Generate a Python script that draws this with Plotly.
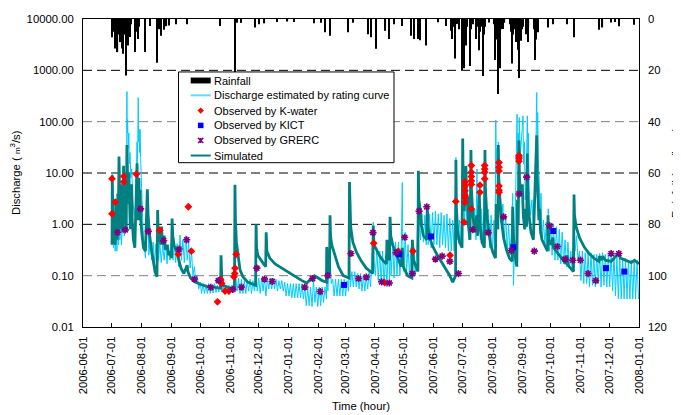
import math
import plotly.graph_objects as go

# ---------------- data ----------------
MONTH_TICKS = ["2006-06-01", "2006-07-01", "2006-08-01", "2006-09-01", "2006-10-01",
               "2006-11-01", "2006-12-01", "2007-01-01", "2007-02-01", "2007-03-01",
               "2007-04-01", "2007-05-01", "2007-06-01", "2007-07-01", "2007-08-01",
               "2007-09-01", "2007-10-01", "2007-11-01", "2007-12-01", "2008-01-01"]
Q_TICKS = [0.01, 0.1, 1, 10, 100, 1000, 10000]
Q_LABELS = ["0.01", "0.10", "1.00", "10.00", "100.00", "1000.00", "10000.00"]
RAIN_TICKS = [0, 20, 40, 60, 80, 100, 120]

# hourly rainfall spikes (mm/hour)
RAIN = [
    ("2006-07-01", 7.1), ("2006-07-02", 3.0), ("2006-07-03", 5.0), ("2006-07-04", 11.5),
    ("2006-07-05", 4.0), ("2006-07-06", 11.5), ("2006-07-07", 12.9), ("2006-07-08", 6.0),
    ("2006-07-09", 3.0), ("2006-07-10", 9.0), ("2006-07-11", 5.0), ("2006-07-12", 11.5),
    ("2006-07-13", 13.5), ("2006-07-14", 4.0), ("2006-07-15", 6.0), ("2006-07-16", 22.0),
    ("2006-07-17", 5.0), ("2006-07-18", 10.3), ("2006-07-19", 3.0), ("2006-07-20", 7.0),
    ("2006-07-21", 2.0), ("2006-07-25", 12.9), ("2006-07-26", 4.0), ("2006-07-27", 5.0),
    ("2006-07-28", 7.8), ("2006-07-29", 3.0), ("2006-08-05", 12.9), ("2006-08-10", 2.7),
    ("2006-08-17", 17.0), ("2006-08-19", 4.0), ("2006-08-21", 6.5), ("2006-08-24", 4.2),
    ("2006-08-27", 2.8), ("2006-08-30", 2.5), ("2006-09-06", 2.0), ("2006-09-17", 2.0),
    ("2006-10-22", 2.7), ("2006-11-06", 21.0), ("2006-11-08", 1.5), ("2006-11-13", 1.5),
    ("2006-11-27", 3.3), ("2006-12-01", 2.0), ("2006-12-07", 1.7), ("2006-12-20", 1.2),
    ("2006-12-31", 1.0), ("2007-01-07", 1.2), ("2007-01-28", 1.7), ("2007-02-04", 1.5),
    ("2007-02-08", 5.2), ("2007-02-13", 6.5), ("2007-03-04", 5.2), ("2007-03-09", 1.5),
    ("2007-03-25", 5.9), ("2007-03-28", 7.1), ("2007-04-02", 11.6), ("2007-04-12", 4.6),
    ("2007-04-16", 7.8), ("2007-04-21", 2.0), ("2007-04-29", 2.7), ("2007-05-09", 6.5),
    ("2007-05-12", 7.8), ("2007-05-16", 7.8), ("2007-05-18", 8.3), ("2007-05-24", 10.3),
    ("2007-06-06", 1.3), ("2007-06-14", 2.7), ("2007-06-19", 4.6), ("2007-06-20", 7.8),
    ("2007-06-21", 3.0), ("2007-06-23", 15.4), ("2007-06-25", 2.0), ("2007-06-27", 1.9),
    ("2007-06-28", 4.0), ("2007-07-01", 19.9), ("2007-07-02", 6.0), ("2007-07-03", 19.2),
    ("2007-07-04", 5.0), ("2007-07-05", 10.3), ("2007-07-06", 3.0), ("2007-07-09", 18.3),
    ("2007-07-10", 4.0), ("2007-07-12", 2.0), ("2007-07-15", 7.8), ("2007-07-16", 3.0),
    ("2007-07-18", 12.2), ("2007-07-19", 5.0), ("2007-07-21", 3.0), ("2007-07-23", 22.2),
    ("2007-07-24", 6.0), ("2007-07-25", 3.0), ("2007-07-29", 1.4), ("2007-08-03", 2.0),
    ("2007-08-04", 16.0), ("2007-08-05", 7.8), ("2007-08-06", 8.0), ("2007-08-07", 29.2),
    ("2007-08-08", 9.0), ("2007-08-09", 19.2), ("2007-08-10", 4.0), ("2007-08-12", 3.9),
    ("2007-08-14", 1.5), ("2007-08-20", 2.0), ("2007-08-21", 5.0), ("2007-08-22", 17.3),
    ("2007-08-23", 6.0), ("2007-08-24", 3.0), ("2007-08-25", 4.0), ("2007-08-26", 9.0),
    ("2007-08-27", 7.0), ("2007-08-28", 12.0), ("2007-08-29", 23.0), ("2007-08-30", 6.0),
    ("2007-08-31", 8.5), ("2007-09-01", 4.0), ("2007-09-02", 3.0), ("2007-09-05", 5.9),
    ("2007-09-06", 4.0), ("2007-09-07", 9.0), ("2007-09-08", 3.0), ("2007-09-14", 4.0),
    ("2007-09-15", 16.0), ("2007-09-16", 8.0), ("2007-09-17", 3.0), ("2007-09-18", 5.2),
    ("2007-09-28", 3.3), ("2007-10-03", 2.0), ("2007-10-18", 2.0), ("2007-10-25", 7.1),
    ("2007-11-20", 4.2), ("2007-11-24", 3.3), ("2007-12-03", 1.4), ("2007-12-07", 1.2),
    ("2007-12-11", 2.8), ("2007-12-27", 2.2),
]

# discharge estimated by rating curve (m3/s)
RATING = [
    ("2006-07-01 06:00", 0.5), ("2006-07-01 12:00", 10.0), ("2006-07-02 00:00", 1.0),
    ("2006-07-02 18:00", 0.35), ("2006-07-03 18:00", 0.95), ("2006-07-04 12:00", 0.3),
    ("2006-07-05 12:00", 0.9), ("2006-07-06 06:00", 0.3), ("2006-07-07 06:00", 1.0),
    ("2006-07-08 00:00", 0.4), ("2006-07-08 12:00", 9.0), ("2006-07-09 06:00", 0.5),
    ("2006-07-10 06:00", 0.95), ("2006-07-11 00:00", 0.4), ("2006-07-12 00:00", 0.9),
    ("2006-07-13 06:00", 8.0), ("2006-07-14 00:00", 0.6), ("2006-07-15 00:00", 1.2),
    ("2006-07-16 00:00", 0.8), ("2006-07-16 18:00", 385.0), ("2006-07-17 00:00", 60.0),
    ("2006-07-17 12:00", 110.0), ("2006-07-18 00:00", 30.0), ("2006-07-18 18:00", 60.0),
    ("2006-07-19 06:00", 15.0), ("2006-07-20 00:00", 25.0), ("2006-07-20 18:00", 8.0),
    ("2006-07-21 18:00", 12.0), ("2006-07-22 18:00", 3.0), ("2006-07-24 12:00", 1.5),
    ("2006-07-26 00:00", 2.5), ("2006-07-27 06:00", 40.0), ("2006-07-27 18:00", 15.0),
    ("2006-07-28 12:00", 295.0), ("2006-07-29 00:00", 40.0), ("2006-07-29 12:00", 72.0),
    ("2006-07-30 00:00", 25.0), ("2006-07-30 12:00", 70.0), ("2006-07-31 00:00", 20.0),
    ("2006-07-31 18:00", 6.0), ("2006-08-01 12:00", 2.0), ("2006-08-02 12:00", 0.8),
    ("2006-08-03 12:00", 0.45), ("2006-08-05 00:00", 0.22), ("2006-08-07 00:00", 4.1),
    ("2006-08-07 18:00", 0.6), ("2006-08-08 12:00", 0.25), ("2006-08-10 00:00", 0.45),
    ("2006-08-11 12:00", 0.2), ("2006-08-13 00:00", 0.45), ("2006-08-14 12:00", 0.18),
    ("2006-08-16 00:00", 0.42), ("2006-08-17 00:00", 0.2), ("2006-08-17 18:00", 0.9),
    ("2006-08-18 18:00", 0.2), ("2006-08-20 00:00", 0.45), ("2006-08-21 12:00", 0.18),
    ("2006-08-23 00:00", 0.4), ("2006-08-24 12:00", 0.2), ("2006-08-26 00:00", 0.45),
    ("2006-08-27 12:00", 0.17), ("2006-08-29 00:00", 0.4), ("2006-08-30 12:00", 0.2),
    ("2006-09-01 18:00", 0.9), ("2006-09-02 18:00", 0.2), ("2006-09-04 00:00", 0.45),
    ("2006-09-05 12:00", 0.18), ("2006-09-07 00:00", 0.42), ("2006-09-08 12:00", 0.15),
    ("2006-09-10 00:00", 0.62), ("2006-09-11 12:00", 0.2), ("2006-09-13 00:00", 0.5),
    ("2006-09-14 12:00", 0.18), ("2006-09-16 00:00", 0.6), ("2006-09-17 12:00", 0.2),
    ("2006-09-19 00:00", 0.45), ("2006-09-20 12:00", 0.14), ("2006-09-22 00:00", 0.3),
    ("2006-09-23 12:00", 0.1), ("2006-09-25 00:00", 0.15), ("2006-09-26 12:00", 0.07),
    ("2006-09-28 00:00", 0.1), ("2006-09-29 12:00", 0.055), ("2006-10-01 00:00", 0.075),
    ("2006-10-02 12:00", 0.045), ("2006-10-04 00:00", 0.07), ("2006-10-05 12:00", 0.045),
    ("2006-10-07 00:00", 0.065), ("2006-10-08 12:00", 0.045), ("2006-10-10 00:00", 0.07),
    ("2006-10-11 12:00", 0.045), ("2006-10-13 00:00", 0.065), ("2006-10-14 12:00", 0.046),
    ("2006-10-16 00:00", 0.07), ("2006-10-17 12:00", 0.047), ("2006-10-19 00:00", 0.065),
    ("2006-10-20 12:00", 0.048), ("2006-10-22 18:00", 0.09), ("2006-10-23 12:00", 0.048),
    ("2006-10-25 00:00", 0.065), ("2006-10-26 12:00", 0.046), ("2006-10-28 00:00", 0.065),
    ("2006-10-29 12:00", 0.045), ("2006-10-31 00:00", 0.065), ("2006-11-01 12:00", 0.047),
    ("2006-11-03 00:00", 0.065), ("2006-11-04 12:00", 0.05), ("2006-11-06 06:00", 0.3),
    ("2006-11-07 00:00", 0.1), ("2006-11-08 12:00", 0.05), ("2006-11-10 00:00", 0.09),
    ("2006-11-11 12:00", 0.045), ("2006-11-13 00:00", 0.085), ("2006-11-14 12:00", 0.045),
    ("2006-11-16 00:00", 0.08), ("2006-11-17 12:00", 0.045), ("2006-11-19 00:00", 0.08),
    ("2006-11-20 12:00", 0.05), ("2006-11-22 00:00", 0.085), ("2006-11-23 12:00", 0.045),
    ("2006-11-25 00:00", 0.08), ("2006-11-26 12:00", 0.05), ("2006-11-28 06:00", 0.12),
    ("2006-11-29 12:00", 0.05), ("2006-12-01 00:00", 0.09), ("2006-12-02 12:00", 0.045),
    ("2006-12-04 00:00", 0.09), ("2006-12-05 12:00", 0.05), ("2006-12-07 00:00", 0.09),
    ("2006-12-08 12:00", 0.04), ("2006-12-10 00:00", 0.09), ("2006-12-11 12:00", 0.055),
    ("2006-12-13 00:00", 0.09), ("2006-12-14 12:00", 0.055), ("2006-12-16 00:00", 0.09),
    ("2006-12-17 12:00", 0.055), ("2006-12-19 00:00", 0.085), ("2006-12-20 12:00", 0.05),
    ("2006-12-22 00:00", 0.08), ("2006-12-23 12:00", 0.055), ("2006-12-25 00:00", 0.08),
    ("2006-12-26 12:00", 0.05), ("2006-12-28 00:00", 0.075), ("2006-12-29 12:00", 0.04),
    ("2006-12-31 00:00", 0.07), ("2007-01-01 12:00", 0.04), ("2007-01-03 00:00", 0.07),
    ("2007-01-04 12:00", 0.037), ("2007-01-06 00:00", 0.07), ("2007-01-07 12:00", 0.037),
    ("2007-01-09 00:00", 0.07), ("2007-01-10 12:00", 0.037), ("2007-01-12 00:00", 0.07),
    ("2007-01-13 12:00", 0.037), ("2007-01-15 00:00", 0.07), ("2007-01-16 12:00", 0.035),
    ("2007-01-18 00:00", 0.06), ("2007-01-19 12:00", 0.026), ("2007-01-21 00:00", 0.06),
    ("2007-01-22 12:00", 0.026), ("2007-01-24 00:00", 0.06), ("2007-01-25 12:00", 0.025),
    ("2007-01-27 00:00", 0.08), ("2007-01-28 12:00", 0.03), ("2007-01-30 00:00", 0.06),
    ("2007-01-31 12:00", 0.025), ("2007-02-02 00:00", 0.06), ("2007-02-03 12:00", 0.026),
    ("2007-02-05 00:00", 0.06), ("2007-02-06 12:00", 0.03), ("2007-02-08 00:00", 0.06),
    ("2007-02-09 12:00", 0.035), ("2007-02-09 20:00", 0.12), ("2007-02-11 00:00", 0.05),
    ("2007-02-13 06:00", 0.3), ("2007-02-14 12:00", 0.07), ("2007-02-16 00:00", 0.085),
    ("2007-02-17 12:00", 0.04), ("2007-02-19 00:00", 0.085), ("2007-02-20 12:00", 0.04),
    ("2007-02-22 00:00", 0.085), ("2007-02-23 12:00", 0.04), ("2007-02-25 00:00", 0.085),
    ("2007-02-26 12:00", 0.04), ("2007-02-28 00:00", 0.085), ("2007-03-01 12:00", 0.04),
    ("2007-03-03 00:00", 0.08), ("2007-03-04 12:00", 0.05), ("2007-03-05 12:00", 0.2),
    ("2007-03-06 12:00", 0.06), ("2007-03-08 00:00", 0.12), ("2007-03-09 12:00", 0.06),
    ("2007-03-11 00:00", 0.12), ("2007-03-12 12:00", 0.06), ("2007-03-14 00:00", 0.11),
    ("2007-03-15 12:00", 0.055), ("2007-03-17 00:00", 0.11), ("2007-03-18 12:00", 0.05),
    ("2007-03-20 00:00", 0.1), ("2007-03-21 12:00", 0.05), ("2007-03-23 00:00", 0.1),
    ("2007-03-24 12:00", 0.055), ("2007-03-26 00:00", 0.12), ("2007-03-27 12:00", 0.06),
    ("2007-03-30 06:00", 1.1), ("2007-03-31 00:00", 0.2), ("2007-04-01 12:00", 0.1),
    ("2007-04-03 00:00", 0.35), ("2007-04-04 12:00", 0.08), ("2007-04-06 00:00", 0.3),
    ("2007-04-07 12:00", 0.07), ("2007-04-09 00:00", 0.3), ("2007-04-10 12:00", 0.07),
    ("2007-04-12 00:00", 0.25), ("2007-04-13 12:00", 0.06), ("2007-04-15 00:00", 0.45),
    ("2007-04-16 06:00", 0.08), ("2007-04-16 18:00", 0.7), ("2007-04-17 18:00", 0.1),
    ("2007-04-19 12:00", 0.4), ("2007-04-21 00:00", 0.09), ("2007-04-22 12:00", 0.45),
    ("2007-04-24 00:00", 0.1), ("2007-04-25 12:00", 0.45), ("2007-04-27 00:00", 0.1),
    ("2007-04-28 12:00", 0.4), ("2007-04-29 12:00", 6.5), ("2007-04-30 00:00", 0.5),
    ("2007-05-01 06:00", 0.12), ("2007-05-02 12:00", 0.7), ("2007-05-04 00:00", 0.12),
    ("2007-05-05 12:00", 0.4), ("2007-05-07 00:00", 0.1), ("2007-05-08 12:00", 0.35),
    ("2007-05-10 00:00", 0.09), ("2007-05-11 12:00", 0.35), ("2007-05-13 00:00", 0.1),
    ("2007-05-14 12:00", 0.3), ("2007-05-16 06:00", 3.0), ("2007-05-17 00:00", 1.5),
    ("2007-05-18 12:00", 0.5), ("2007-05-20 00:00", 1.6), ("2007-05-21 12:00", 0.45),
    ("2007-05-23 00:00", 1.5), ("2007-05-24 12:00", 0.4), ("2007-05-25 12:00", 1.8),
    ("2007-05-26 12:00", 0.4), ("2007-05-28 00:00", 1.6), ("2007-05-29 12:00", 0.35),
    ("2007-05-31 00:00", 1.7), ("2007-06-01 12:00", 0.4), ("2007-06-03 00:00", 1.8),
    ("2007-06-04 12:00", 0.4), ("2007-06-06 00:00", 1.6), ("2007-06-07 12:00", 0.35),
    ("2007-06-09 00:00", 1.7), ("2007-06-10 12:00", 0.4), ("2007-06-12 00:00", 1.5),
    ("2007-06-13 12:00", 0.35), ("2007-06-15 00:00", 1.6), ("2007-06-16 12:00", 0.3),
    ("2007-06-18 00:00", 1.3), ("2007-06-19 12:00", 0.3), ("2007-06-21 00:00", 1.2),
    ("2007-06-22 12:00", 0.3), ("2007-06-24 08:00", 20.0), ("2007-06-25 00:00", 1.5),
    ("2007-06-26 12:00", 0.5), ("2007-06-28 00:00", 1.2), ("2007-06-29 12:00", 0.4),
    ("2007-07-01 10:00", 30.0), ("2007-07-02 06:00", 4.0), ("2007-07-03 12:00", 1.0),
    ("2007-07-04 18:00", 10.0), ("2007-07-05 18:00", 1.0), ("2007-07-06 18:00", 2.0),
    ("2007-07-08 00:00", 0.5), ("2007-07-09 12:00", 1.5), ("2007-07-10 00:00", 25.0),
    ("2007-07-11 00:00", 3.0), ("2007-07-12 12:00", 0.7), ("2007-07-14 00:00", 2.0),
    ("2007-07-15 06:00", 0.5), ("2007-07-16 06:00", 12.0), ("2007-07-17 00:00", 0.6),
    ("2007-07-18 18:00", 6.0), ("2007-07-19 18:00", 0.5), ("2007-07-21 00:00", 2.0),
    ("2007-07-22 12:00", 0.4), ("2007-07-24 14:00", 20.0), ("2007-07-25 06:00", 2.5),
    ("2007-07-26 12:00", 0.7), ("2007-07-28 00:00", 2.0), ("2007-07-29 12:00", 0.35),
    ("2007-07-31 00:00", 1.5), ("2007-08-01 12:00", 0.3), ("2007-08-03 00:00", 1.2),
    ("2007-08-04 06:00", 0.3), ("2007-08-04 20:00", 107.0), ("2007-08-05 12:00", 10.0),
    ("2007-08-06 06:00", 30.0), ("2007-08-07 00:00", 5.0), ("2007-08-07 12:00", 40.0),
    ("2007-08-08 06:00", 8.0), ("2007-08-09 12:00", 3.0), ("2007-08-10 18:00", 1.0),
    ("2007-08-12 06:00", 2.5), ("2007-08-13 18:00", 0.5), ("2007-08-15 06:00", 1.5),
    ("2007-08-16 18:00", 0.3), ("2007-08-18 06:00", 1.0), ("2007-08-19 18:00", 0.25),
    ("2007-08-21 06:00", 0.8), ("2007-08-22 12:00", 4.0), ("2007-08-23 06:00", 0.065),
    ("2007-08-24 18:00", 0.5), ("2007-08-27 00:00", 140.0), ("2007-08-27 12:00", 15.0),
    ("2007-08-28 06:00", 60.0), ("2007-08-28 18:00", 10.0), ("2007-08-29 06:00", 120.0),
    ("2007-08-30 06:00", 20.0), ("2007-09-02 06:00", 130.0), ("2007-09-02 18:00", 15.0),
    ("2007-09-03 18:00", 40.0), ("2007-09-04 12:00", 3.0), ("2007-09-05 12:00", 6.0),
    ("2007-09-06 16:00", 130.0), ("2007-09-07 06:00", 20.0), ("2007-09-07 18:00", 60.0),
    ("2007-09-08 12:00", 6.0), ("2007-09-10 00:00", 1.5), ("2007-09-11 12:00", 3.0),
    ("2007-09-13 00:00", 0.8), ("2007-09-15 12:00", 20.0), ("2007-09-16 12:00", 370.0),
    ("2007-09-17 00:00", 40.0), ("2007-09-17 12:00", 150.0), ("2007-09-18 06:00", 15.0),
    ("2007-09-19 00:00", 8.0), ("2007-09-20 00:00", 1.5), ("2007-09-21 00:00", 4.0),
    ("2007-09-22 00:00", 0.5), ("2007-09-23 12:00", 1.2), ("2007-09-25 00:00", 0.4),
    ("2007-09-26 12:00", 1.1), ("2007-09-28 00:00", 0.35), ("2007-09-28 12:00", 2.0),
    ("2007-09-29 18:00", 0.3), ("2007-10-01 00:00", 1.0), ("2007-10-02 12:00", 0.25),
    ("2007-10-04 00:00", 1.0), ("2007-10-05 12:00", 0.2), ("2007-10-07 00:00", 0.9),
    ("2007-10-08 12:00", 0.2), ("2007-10-10 00:00", 0.8), ("2007-10-11 12:00", 0.17),
    ("2007-10-13 00:00", 0.7), ("2007-10-14 12:00", 0.17), ("2007-10-16 00:00", 0.5),
    ("2007-10-17 12:00", 0.15), ("2007-10-19 00:00", 0.45), ("2007-10-20 12:00", 0.15),
    ("2007-10-22 00:00", 0.3), ("2007-10-23 12:00", 0.12), ("2007-10-25 12:00", 1.5),
    ("2007-10-26 12:00", 0.3), ("2007-10-28 00:00", 0.6), ("2007-10-29 12:00", 0.2),
    ("2007-10-31 00:00", 0.3), ("2007-11-01 12:00", 0.08), ("2007-11-03 00:00", 0.3),
    ("2007-11-04 12:00", 0.07), ("2007-11-06 00:00", 0.28), ("2007-11-07 12:00", 0.07),
    ("2007-11-09 00:00", 0.28), ("2007-11-10 12:00", 0.06), ("2007-11-12 00:00", 0.28),
    ("2007-11-13 12:00", 0.065), ("2007-11-15 00:00", 0.26), ("2007-11-16 12:00", 0.06),
    ("2007-11-18 00:00", 0.26), ("2007-11-19 12:00", 0.07), ("2007-11-21 00:00", 0.27),
    ("2007-11-22 12:00", 0.06), ("2007-11-24 00:00", 0.28), ("2007-11-25 12:00", 0.065),
    ("2007-11-27 00:00", 0.26), ("2007-11-28 12:00", 0.06), ("2007-11-30 00:00", 0.26),
    ("2007-12-01 12:00", 0.06), ("2007-12-03 00:00", 0.28), ("2007-12-04 12:00", 0.05),
    ("2007-12-06 00:00", 0.26), ("2007-12-07 12:00", 0.04), ("2007-12-09 00:00", 0.25),
    ("2007-12-10 12:00", 0.035), ("2007-12-12 00:00", 0.25), ("2007-12-13 12:00", 0.035),
    ("2007-12-15 00:00", 0.22), ("2007-12-16 12:00", 0.035), ("2007-12-18 00:00", 0.22),
    ("2007-12-19 12:00", 0.035), ("2007-12-21 00:00", 0.2), ("2007-12-22 12:00", 0.035),
    ("2007-12-24 00:00", 0.2), ("2007-12-25 12:00", 0.035), ("2007-12-27 00:00", 0.2),
    ("2007-12-28 12:00", 0.035), ("2007-12-30 00:00", 0.2), ("2007-12-31 12:00", 0.035),
]

# simulated discharge (m3/s)
SIMULATED = [
    ("2006-07-01 06:00", 0.4), ("2006-07-01 12:00", 9.0), ("2006-07-02 00:00", 1.8),
    ("2006-07-03 00:00", 0.7), ("2006-07-04 12:00", 0.4), ("2006-07-05 06:00", 3.0),
    ("2006-07-05 18:00", 0.9), ("2006-07-06 18:00", 0.5), ("2006-07-07 06:00", 4.0),
    ("2006-07-07 18:00", 0.9), ("2006-07-08 12:00", 21.0), ("2006-07-09 00:00", 2.5),
    ("2006-07-09 18:00", 0.8), ("2006-07-11 00:00", 6.0), ("2006-07-11 12:00", 1.2),
    ("2006-07-12 12:00", 0.7), ("2006-07-13 06:00", 13.8), ("2006-07-13 18:00", 1.8),
    ("2006-07-14 12:00", 8.0), ("2006-07-15 00:00", 1.5), ("2006-07-16 00:00", 0.8),
    ("2006-07-16 18:00", 35.0), ("2006-07-17 06:00", 8.0), ("2006-07-18 00:00", 2.5),
    ("2006-07-18 18:00", 10.0), ("2006-07-19 06:00", 2.0), ("2006-07-20 06:00", 0.8),
    ("2006-07-21 18:00", 6.0), ("2006-07-22 06:00", 1.2), ("2006-07-23 12:00", 0.5),
    ("2006-07-25 00:00", 0.35), ("2006-07-27 06:00", 15.5), ("2006-07-27 18:00", 3.0),
    ("2006-07-28 12:00", 1.2), ("2006-07-29 06:00", 8.0), ("2006-07-29 18:00", 1.5),
    ("2006-07-30 12:00", 4.7), ("2006-07-31 00:00", 1.3), ("2006-08-01 12:00", 0.6),
    ("2006-08-03 00:00", 0.35), ("2006-08-05 00:00", 0.3), ("2006-08-07 00:00", 4.8),
    ("2006-08-07 18:00", 1.6), ("2006-08-09 00:00", 0.7), ("2006-08-11 00:00", 0.35),
    ("2006-08-13 00:00", 0.18), ("2006-08-15 00:00", 0.12), ("2006-08-17 00:00", 0.095),
    ("2006-08-17 18:00", 1.9), ("2006-08-18 06:00", 0.7), ("2006-08-19 12:00", 0.45),
    ("2006-08-20 00:00", 0.8), ("2006-08-21 00:00", 0.4), ("2006-08-21 18:00", 0.9),
    ("2006-08-22 18:00", 0.4), ("2006-08-24 12:00", 0.6), ("2006-08-25 12:00", 0.32),
    ("2006-08-27 12:00", 0.4), ("2006-08-29 06:00", 0.25), ("2006-08-30 18:00", 0.3),
    ("2006-09-01 06:00", 0.22), ("2006-09-01 18:00", 1.3), ("2006-09-02 12:00", 0.6),
    ("2006-09-04 00:00", 0.38), ("2006-09-06 12:00", 0.3), ("2006-09-08 12:00", 0.2),
    ("2006-09-11 00:00", 0.14), ("2006-09-14 00:00", 0.11), ("2006-09-17 12:00", 0.16),
    ("2006-09-18 06:00", 0.12), ("2006-09-21 00:00", 0.09), ("2006-09-25 00:00", 0.077),
    ("2006-10-01 00:00", 0.068), ("2006-10-08 00:00", 0.062), ("2006-10-15 00:00", 0.059),
    ("2006-10-22 06:00", 0.057), ("2006-10-22 18:00", 0.25), ("2006-10-23 12:00", 0.09),
    ("2006-10-25 00:00", 0.065), ("2006-10-31 00:00", 0.058), ("2006-11-05 18:00", 0.055),
    ("2006-11-06 06:00", 5.9), ("2006-11-06 18:00", 1.2), ("2006-11-07 18:00", 0.45),
    ("2006-11-09 12:00", 0.22), ("2006-11-11 12:00", 0.13), ("2006-11-14 12:00", 0.095),
    ("2006-11-19 12:00", 0.075), ("2006-11-27 18:00", 0.065), ("2006-11-28 06:00", 1.0),
    ("2006-11-28 18:00", 0.35), ("2006-11-30 00:00", 0.25), ("2006-12-03 00:00", 0.2),
    ("2006-12-06 00:00", 0.17), ("2006-12-08 06:00", 0.15), ("2006-12-08 18:00", 0.7),
    ("2006-12-09 12:00", 0.3), ("2006-12-12 12:00", 0.22), ("2006-12-18 00:00", 0.17),
    ("2006-12-25 00:00", 0.14), ("2007-01-01 00:00", 0.115), ("2007-01-08 00:00", 0.095),
    ("2007-01-15 00:00", 0.08), ("2007-01-20 00:00", 0.072), ("2007-01-24 00:00", 0.085),
    ("2007-01-28 00:00", 0.1), ("2007-02-01 00:00", 0.09), ("2007-02-05 00:00", 0.08),
    ("2007-02-09 12:00", 0.075), ("2007-02-09 20:00", 0.36), ("2007-02-10 18:00", 0.15),
    ("2007-02-12 18:00", 0.11), ("2007-02-13 06:00", 1.5), ("2007-02-13 18:00", 0.6),
    ("2007-02-15 00:00", 0.4), ("2007-02-18 00:00", 0.25), ("2007-02-22 00:00", 0.15),
    ("2007-02-27 00:00", 0.1), ("2007-03-05 00:00", 0.09), ("2007-03-05 12:00", 6.7),
    ("2007-03-06 00:00", 1.5), ("2007-03-06 18:00", 0.9), ("2007-03-09 00:00", 0.45),
    ("2007-03-13 00:00", 0.28), ("2007-03-18 00:00", 0.19), ("2007-03-23 00:00", 0.14),
    ("2007-03-29 18:00", 0.11), ("2007-03-30 06:00", 0.95), ("2007-03-31 00:00", 0.4),
    ("2007-04-03 00:00", 0.3), ("2007-04-06 00:00", 0.24), ("2007-04-10 00:00", 0.19),
    ("2007-04-13 00:00", 0.17), ("2007-04-13 12:00", 0.5), ("2007-04-14 06:00", 0.25),
    ("2007-04-16 06:00", 0.2), ("2007-04-16 18:00", 1.4), ("2007-04-17 12:00", 0.6),
    ("2007-04-19 12:00", 0.4), ("2007-04-23 12:00", 0.25), ("2007-04-28 12:00", 0.15),
    ("2007-04-29 12:00", 0.35), ("2007-04-30 12:00", 0.15), ("2007-05-05 00:00", 0.1),
    ("2007-05-09 12:00", 0.09), ("2007-05-10 00:00", 0.5), ("2007-05-11 06:00", 0.2),
    ("2007-05-15 18:00", 0.12), ("2007-05-16 06:00", 11.0), ("2007-05-16 18:00", 3.0),
    ("2007-05-18 00:00", 2.0), ("2007-05-19 06:00", 1.0), ("2007-05-21 12:00", 0.6),
    ("2007-05-25 00:00", 0.5), ("2007-05-25 12:00", 2.3), ("2007-05-26 06:00", 0.9),
    ("2007-05-28 00:00", 0.55), ("2007-05-31 00:00", 0.38), ("2007-06-04 00:00", 0.27),
    ("2007-06-09 00:00", 0.19), ("2007-06-14 00:00", 0.13), ("2007-06-18 00:00", 0.1),
    ("2007-06-21 00:00", 0.075), ("2007-06-24 00:00", 0.1), ("2007-06-24 08:00", 18.0),
    ("2007-06-24 20:00", 2.2), ("2007-06-26 00:00", 0.8), ("2007-06-28 00:00", 0.45),
    ("2007-06-30 18:00", 0.35), ("2007-07-01 10:00", 47.0), ("2007-07-01 22:00", 6.0),
    ("2007-07-03 00:00", 1.8), ("2007-07-04 18:00", 13.7), ("2007-07-05 12:00", 2.5),
    ("2007-07-06 12:00", 3.5), ("2007-07-07 06:00", 1.0), ("2007-07-09 00:00", 0.5),
    ("2007-07-10 00:00", 28.0), ("2007-07-10 12:00", 5.0), ("2007-07-12 00:00", 1.5),
    ("2007-07-14 00:00", 0.7), ("2007-07-16 00:00", 1.5), ("2007-07-17 00:00", 0.6),
    ("2007-07-18 18:00", 3.9), ("2007-07-19 12:00", 1.0), ("2007-07-21 12:00", 0.45),
    ("2007-07-24 00:00", 0.35), ("2007-07-24 14:00", 28.0), ("2007-07-25 02:00", 5.0),
    ("2007-07-26 12:00", 1.5), ("2007-07-28 12:00", 0.7), ("2007-07-30 12:00", 0.4),
    ("2007-08-02 00:00", 0.28), ("2007-08-04 12:00", 0.22), ("2007-08-05 06:00", 2.5),
    ("2007-08-06 00:00", 1.0), ("2007-08-07 00:00", 0.8), ("2007-08-07 12:00", 35.0),
    ("2007-08-08 00:00", 8.0), ("2007-08-09 06:00", 3.0), ("2007-08-10 18:00", 1.2),
    ("2007-08-13 00:00", 0.55), ("2007-08-16 00:00", 0.32), ("2007-08-19 00:00", 0.22),
    ("2007-08-22 00:00", 0.19), ("2007-08-22 12:00", 2.2), ("2007-08-23 06:00", 0.6),
    ("2007-08-25 00:00", 0.25), ("2007-08-26 18:00", 0.15), ("2007-08-27 12:00", 3.0),
    ("2007-08-28 06:00", 1.0), ("2007-08-29 00:00", 43.0), ("2007-08-29 12:00", 8.0),
    ("2007-08-30 18:00", 3.5), ("2007-09-01 12:00", 6.0), ("2007-09-02 12:00", 1.5),
    ("2007-09-04 00:00", 0.8), ("2007-09-05 06:00", 2.0), ("2007-09-06 00:00", 0.9),
    ("2007-09-06 16:00", 24.0), ("2007-09-07 04:00", 4.0), ("2007-09-08 12:00", 1.5),
    ("2007-09-10 12:00", 0.7), ("2007-09-13 00:00", 0.5), ("2007-09-16 12:00", 54.0),
    ("2007-09-17 00:00", 9.0), ("2007-09-17 18:00", 3.0), ("2007-09-18 18:00", 1.2),
    ("2007-09-19 12:00", 2.0), ("2007-09-20 12:00", 0.7), ("2007-09-22 00:00", 0.5),
    ("2007-09-25 00:00", 0.38), ("2007-09-27 18:00", 0.3), ("2007-09-28 06:00", 1.5),
    ("2007-09-29 00:00", 0.5), ("2007-10-01 00:00", 0.4), ("2007-10-03 06:00", 0.55),
    ("2007-10-04 00:00", 0.35), ("2007-10-08 00:00", 0.28), ("2007-10-12 00:00", 0.22),
    ("2007-10-17 00:00", 0.17), ("2007-10-18 06:00", 0.25), ("2007-10-19 00:00", 0.16),
    ("2007-10-24 18:00", 0.12), ("2007-10-25 08:00", 3.8), ("2007-10-25 20:00", 1.5),
    ("2007-10-27 12:00", 0.9), ("2007-10-31 00:00", 0.55), ("2007-11-05 00:00", 0.36),
    ("2007-11-10 00:00", 0.27), ("2007-11-15 00:00", 0.22), ("2007-11-20 06:00", 0.19),
    ("2007-11-20 18:00", 0.24), ("2007-11-23 00:00", 0.2), ("2007-11-24 06:00", 0.24),
    ("2007-11-27 00:00", 0.2), ("2007-12-03 00:00", 0.19), ("2007-12-11 06:00", 0.28),
    ("2007-12-12 12:00", 0.22), ("2007-12-18 00:00", 0.2), ("2007-12-24 00:00", 0.18),
    ("2007-12-27 06:00", 0.2), ("2007-12-31 23:00", 0.17),
]

KWATER_DATES = ["2006-07-01 05:00", "2006-07-01 05:00", "2006-07-04 14:00", "2006-07-13 10:00",
                "2006-07-13 10:00", "2006-07-26 12:00", "2006-08-19 22:00", "2006-09-08 05:00",
                "2006-09-18 17:00", "2006-09-21 19:00", "2006-10-19 02:00", "2006-10-22 05:00",
                "2006-10-22 05:00", "2006-10-23 10:00", "2006-10-26 22:00", "2006-10-31 00:00",
                "2006-11-05 05:00", "2006-11-06 00:00", "2006-11-06 07:00", "2006-11-07 12:00",
                "2007-03-30 17:00", "2007-04-11 05:00", "2007-04-25 07:00", "2007-05-10 14:00",
                "2007-06-18 05:00", "2007-06-24 05:00", "2007-07-02 19:00",
                "2007-07-03 19:00", "2007-07-03 19:00", "2007-07-03 19:00", "2007-07-03 19:00",
                "2007-07-03 19:00", "2007-07-03 19:00",
                "2007-07-10 10:00", "2007-07-10 10:00", "2007-07-10 10:00", "2007-07-10 10:00",
                "2007-07-10 10:00", "2007-07-10 10:00",
                "2007-07-19 10:00", "2007-07-19 10:00",
                "2007-07-24 07:00", "2007-07-24 07:00", "2007-07-24 07:00", "2007-07-24 07:00",
                "2007-08-08 05:00", "2007-08-08 05:00", "2007-08-08 05:00", "2007-08-08 05:00",
                "2007-08-08 05:00", "2007-08-08 05:00",
                "2007-08-29 00:00", "2007-08-29 00:00", "2007-08-29 00:00", "2007-08-29 00:00"]
KWATER_Q = [7.7, 1.6, 2.7, 8.6, 6.7, 9.5, 0.77, 0.26, 2.2, 0.30, 0.031, 0.08, 0.085, 0.07,
            0.05, 0.05, 0.095, 0.11, 0.14, 0.26, 0.43, 0.073, 0.30, 0.30, 0.25, 2.8, 1.1,
            2.7, 3.3, 3.7, 4.5, 5.6, 6.7,
            2.0, 6.0, 7.0, 8.5, 10.3, 14.0,
            4.2, 5.8,
            7.7, 10.3, 12.0, 14.0,
            4.2, 4.6, 5.6, 11.0, 13.0, 16.0,
            17.0, 19.0, 20.5, 22.0]

KICT_DATES = ["2007-02-27 19:00", "2007-04-26 10:00", "2007-05-29 10:00", "2007-08-23 02:00",
              "2007-10-03 17:00", "2007-11-27 14:00", "2007-12-16 17:00"]
KICT_Q = [0.066, 0.26, 0.58, 0.36, 0.74, 0.14, 0.12]

GRERC_DATES = ["2006-07-07", "2006-07-15", "2006-07-31", "2006-08-08", "2006-08-24",
               "2006-09-09", "2006-09-17", "2006-09-25", "2006-10-12", "2006-10-20",
               "2006-11-04", "2006-11-13", "2006-11-29", "2006-12-07", "2006-12-15",
               "2007-01-18", "2007-01-26", "2007-02-03", "2007-02-11", "2007-03-07",
               "2007-03-15", "2007-03-23", "2007-03-30", "2007-04-08", "2007-04-16",
               "2007-04-23", "2007-05-02", "2007-05-10", "2007-05-17", "2007-05-25",
               "2007-06-03", "2007-06-10", "2007-06-18", "2007-06-27", "2007-07-12",
               "2007-07-28", "2007-08-13", "2007-08-21", "2007-08-29", "2007-09-06",
               "2007-09-14", "2007-09-30", "2007-10-08", "2007-10-16", "2007-10-24",
               "2007-11-01", "2007-11-09", "2007-11-17", "2007-12-03", "2007-12-11"]
GRERC_Q = [0.70, 0.78, 2.0, 0.73, 0.48, 0.33, 0.50, 0.086, 0.059, 0.080,
           0.054, 0.060, 0.14, 0.086, 0.077, 0.060, 0.088, 0.049, 0.10, 0.27,
           0.088, 0.094, 0.69, 0.076, 0.072, 0.28, 0.56, 0.11, 1.8, 2.2,
           0.21, 0.24, 0.19, 0.11, 0.79, 0.69, 1.4, 0.31, 3.9, 8.3,
           0.30, 0.93, 0.37, 0.21, 0.20, 0.20, 0.11, 0.08, 0.27, 0.27]

# ---------------- figure ----------------
FONT = "Liberation Sans, Arial, Helvetica, sans-serif"
PAGE_OFFSET = 8            # default <body> margin of the html page
W, H = 681 - PAGE_OFFSET, 415 - PAGE_OFFSET
PLOT_L, PLOT_R, PLOT_T, PLOT_B = 83, 639, 13, 327   # plot area in window pixels
ML, MT = PLOT_L - PAGE_OFFSET, PLOT_T - PAGE_OFFSET
MR = W - (PLOT_R - PAGE_OFFSET)
MB = H - (PLOT_B - PAGE_OFFSET)
PW, PH = PLOT_R - PLOT_L, PLOT_B - PLOT_T

C_RATING = "#00CCFF"
C_SIM = "#008080"
C_KW = "#FF0000"
C_KICT = "#0000FF"
C_GRERC = "#800080"


def fx(px):
    return (px - PLOT_L) / PW


def fy(py):
    return (PLOT_B - py) / PH


fig = go.Figure()

fig.add_trace(go.Bar(
    x=[d for d, _ in RAIN], y=[v for _, v in RAIN], yaxis="y2",
    width=86400000 * 1.2, marker=dict(color="black", line=dict(width=0)),
    name="Rainfall", showlegend=False))

fig.add_trace(go.Scatter(
    x=[d for d, _ in RATING], y=[v for _, v in RATING], mode="lines",
    line=dict(color=C_RATING, width=1), name="Discharge estimated by rating curve",
    showlegend=False))

fig.add_trace(go.Scatter(
    x=[d for d, _ in SIMULATED], y=[v for _, v in SIMULATED], mode="lines",
    line=dict(color=C_SIM, width=2.8), name="Simulated", showlegend=False))

fig.add_trace(go.Scatter(
    x=KWATER_DATES, y=KWATER_Q, mode="markers", name="Observed by K-water",
    marker=dict(symbol="diamond", size=6, color=C_KW, line=dict(width=0)),
    showlegend=False))

fig.add_trace(go.Scatter(
    x=KICT_DATES, y=KICT_Q, mode="markers", name="Observed by KICT",
    marker=dict(symbol="square", size=6, color=C_KICT, line=dict(width=0)),
    showlegend=False))

fig.add_trace(go.Scatter(
    x=GRERC_DATES, y=GRERC_Q, mode="markers", name="Observed by GRERC",
    marker=dict(symbol="asterisk-open", size=6, color=C_GRERC,
                line=dict(width=1.6, color=C_GRERC)),
    showlegend=False))

shapes = []
# dashed horizontal gridlines at the decade ticks
GRID_COLORS = {0.1: "#808080", 1: "black", 10: "black", 100: "#808080", 1000: "black"}
for v in Q_TICKS[1:-1]:
    yy = (math.log10(v) - math.log10(Q_TICKS[0])) / (math.log10(Q_TICKS[-1]) - math.log10(Q_TICKS[0]))
    shapes.append(dict(type="line", xref="paper", yref="paper", x0=0, x1=1, y0=yy, y1=yy,
                       line=dict(color=GRID_COLORS[v], width=1, dash="9px,5px"), layer="below"))

# legend (drawn manually to match the compact Excel-style box)
LEG_X0, LEG_X1, LEG_Y0, LEG_Y1 = 178.5, 394, 67, 159.5
ROW_Y = [75.7, 90.8, 106.3, 121.5, 136.8, 152.2]
SYM_X0, SYM_X1, SYM_XC, TXT_X = 190.7, 210.7, 200.7, 212.0
shapes.append(dict(type="rect", xref="paper", yref="paper",
                   x0=fx(LEG_X0), x1=fx(LEG_X1), y0=fy(LEG_Y1), y1=fy(LEG_Y0),
                   fillcolor="white", line=dict(color="black", width=1), layer="above"))
shapes.append(dict(type="rect", xref="paper", yref="paper",
                   x0=fx(SYM_X0), x1=fx(SYM_X1), y0=fy(ROW_Y[0] + 3), y1=fy(ROW_Y[0] - 3),
                   fillcolor="black", line=dict(width=0), layer="above"))
shapes.append(dict(type="line", xref="paper", yref="paper",
                   x0=fx(SYM_X0), x1=fx(SYM_X1), y0=fy(ROW_Y[1]), y1=fy(ROW_Y[1]),
                   line=dict(color="#66D9FF", width=2), layer="above"))
r = 3.2
yc = ROW_Y[2]
shapes.append(dict(type="path", xref="paper", yref="paper", layer="above",
                   path=f"M {fx(SYM_XC - r)} {fy(yc)} L {fx(SYM_XC)} {fy(yc - r)} "
                        f"L {fx(SYM_XC + r)} {fy(yc)} L {fx(SYM_XC)} {fy(yc + r)} Z",
                   fillcolor=C_KW, line=dict(width=0)))
yc = ROW_Y[3]
shapes.append(dict(type="rect", xref="paper", yref="paper", layer="above",
                   x0=fx(SYM_XC - 2.8), x1=fx(SYM_XC + 2.8), y0=fy(yc + 2.8), y1=fy(yc - 2.8),
                   fillcolor=C_KICT, line=dict(width=0)))
yc = ROW_Y[4]
a = 2.6
for (dx0, dy0, dx1, dy1) in [(-a, -a, a, a), (-a, a, a, -a), (0, -a, 0, a)]:
    shapes.append(dict(type="line", xref="paper", yref="paper", layer="above",
                       x0=fx(SYM_XC + dx0), y0=fy(yc + dy0), x1=fx(SYM_XC + dx1), y1=fy(yc + dy1),
                       line=dict(color=C_GRERC, width=1.5)))
shapes.append(dict(type="line", xref="paper", yref="paper",
                   x0=fx(SYM_X0), x1=fx(SYM_X1), y0=fy(ROW_Y[5]), y1=fy(ROW_Y[5]),
                   line=dict(color=C_SIM, width=2), layer="above"))

LEGEND_TEXT = ["Rainfall", "Discharge estimated by rating curve", "Observed by K-water",
               "Observed by KICT", "Observed by GRERC", "Simulated"]
annotations = []
for t, yy in zip(LEGEND_TEXT, ROW_Y):
    annotations.append(dict(text=t, xref="paper", yref="paper", x=fx(TXT_X), y=fy(yy),
                            xanchor="left", yanchor="middle", showarrow=False,
                            font=dict(family=FONT, size=11, color="black")))

annotations.append(dict(
    text="Discharge ( <span style='font-size:8px'>m</span><sup>3</sup>/s)",
    xref="paper", yref="paper", x=fx(15), y=0.5, textangle=-90,
    xanchor="center", yanchor="middle", showarrow=False,
    font=dict(family=FONT, size=11.3, color="black")))
annotations.append(dict(
    text="Rainfall ( <span style='font-size:8px'>mm</span>/hour)",
    xref="paper", yref="paper", x=fx(676), y=0.5, textangle=-90,
    xanchor="center", yanchor="middle", showarrow=False,
    font=dict(family=FONT, size=11.3, color="black")))
annotations.append(dict(
    text="Time (hour)", xref="paper", yref="paper", x=0.5, y=fy(408),
    xanchor="center", yanchor="middle", showarrow=False,
    font=dict(family=FONT, size=11.3, color="black")))

fig.update_layout(
    width=W, height=H, autosize=False,
    margin=dict(l=ML, r=MR, t=MT, b=MB, pad=0),
    paper_bgcolor="white", plot_bgcolor="white",
    font=dict(family=FONT, size=11.3, color="black"),
    showlegend=False,
    xaxis=dict(type="date", range=[MONTH_TICKS[0], MONTH_TICKS[-1]],
               tickvals=MONTH_TICKS, ticktext=MONTH_TICKS, tickangle=-90,
               ticks="inside", ticklen=4, tickcolor="black", tickwidth=1,
               showline=True, linecolor="black", linewidth=1, mirror=True,
               showgrid=False, zeroline=False, ticklabelstandoff=4,
               ticklabeloverflow="allow",
               tickfont=dict(family=FONT, size=11.3, color="black")),
    yaxis=dict(type="log", range=[math.log10(Q_TICKS[0]), math.log10(Q_TICKS[-1])],
               tickvals=Q_TICKS, ticktext=Q_LABELS, ticks="",
               showline=True, linecolor="black", linewidth=1, mirror=True,
               showgrid=False, zeroline=False, ticklabelstandoff=6,
               ticklabeloverflow="allow",
               tickfont=dict(family=FONT, size=11.3, color="black")),
    yaxis2=dict(overlaying="y", side="right", range=[RAIN_TICKS[-1], RAIN_TICKS[0]],
                tickvals=RAIN_TICKS, ticktext=[str(v) for v in RAIN_TICKS], ticks="",
                showline=False, showgrid=False, zeroline=False, ticklabelstandoff=8,
                ticklabeloverflow="allow",
                tickfont=dict(family=FONT, size=11.3, color="black")),
    shapes=shapes,
    annotations=annotations,
)

fig.write_html("out.html")
